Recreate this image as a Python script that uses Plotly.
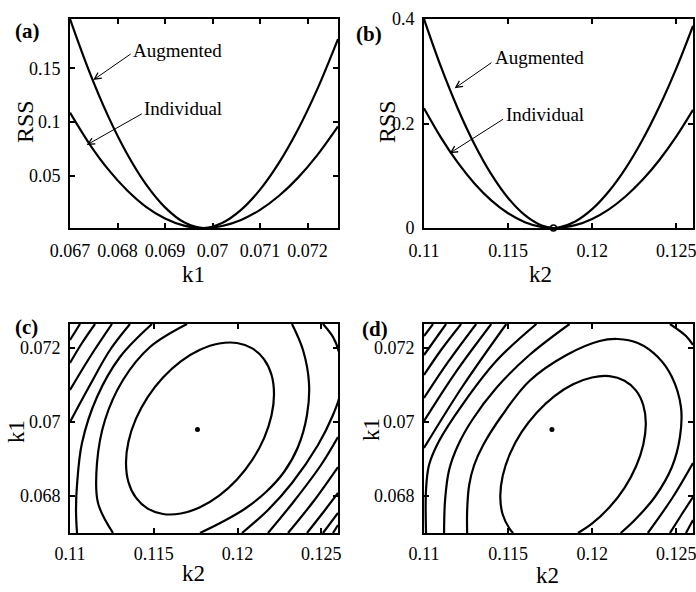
import plotly.graph_objects as go

# ---------------- (a) RSS versus k1 ----------------
A_K1 = [0.0670, 0.0674, 0.0678, 0.0682, 0.0686, 0.0690, 0.0694, 0.0698,
        0.0702, 0.0706, 0.0710, 0.0714, 0.0718, 0.0722, 0.07264]
A_AUG = [0.196, 0.1477, 0.1058, 0.0705, 0.0420, 0.0206, 0.0067, 0.0014,
         0.0061, 0.0183, 0.0371, 0.0622, 0.0933, 0.1302, 0.1773]
A_IND = [0.1088, 0.0803, 0.0562, 0.0365, 0.0211, 0.0102, 0.0036, 0.0014,
         0.0033, 0.0089, 0.0183, 0.0314, 0.0483, 0.0690, 0.0960]

# ---------------- (b) RSS versus k2 ----------------
B_K2 = [0.110, 0.111, 0.112, 0.113, 0.114, 0.115, 0.116, 0.117, 0.1177,
        0.118, 0.119, 0.120, 0.121, 0.122, 0.123, 0.124, 0.125, 0.126]
B_AUG = [0.400, 0.3092, 0.2293, 0.1605, 0.1031, 0.0575, 0.0245, 0.0047, 0.0,
         0.0008, 0.0125, 0.0360, 0.0703, 0.1146, 0.1688, 0.2324, 0.3051, 0.387]
B_IND = [0.229, 0.1734, 0.1255, 0.0853, 0.0529, 0.0282, 0.0112, 0.0019, 0.0,
         0.0003, 0.0055, 0.0174, 0.0357, 0.0607, 0.0922, 0.1302, 0.1748, 0.226]
B_MIN_K2 = [0.1177]
B_MIN_RSS = [0.0]

# optimum (k2, k1)
OPT_K2 = [0.11761]
OPT_K1 = [0.0698]

# ---------------- (c) contour lines (k2, k1) ----------------
C_ELL_K2 = [0.122179, 0.12203, 0.121588, 0.120883, 0.11997, 0.118907, 0.117761,
            0.116615, 0.115552, 0.114639, 0.113934, 0.113492, 0.113343, 0.113492,
            0.113934, 0.114639, 0.115552, 0.116615, 0.117761, 0.118907, 0.11997,
            0.120883, 0.121588, 0.12203, 0.122179]
C_ELL_K1 = [0.070755, 0.070174, 0.069565, 0.068976, 0.068446, 0.068008, 0.067695,
            0.067527, 0.067514, 0.06766, 0.067954, 0.068373, 0.068895, 0.069476,
            0.070084, 0.070674, 0.071204, 0.071642, 0.071955, 0.072123, 0.072136,
            0.07199, 0.071696, 0.071277, 0.070755]
C_R2L_K2 = [0.116985, 0.114776, 0.113164, 0.11209, 0.111612, 0.111672, 0.112567]
C_R2L_K1 = [0.07265, 0.072028, 0.071136, 0.070055, 0.068892, 0.067811, 0.067]
C_R2R_K2 = [0.123253, 0.12391, 0.124268, 0.124149, 0.123612, 0.122776, 0.121701,
            0.120507, 0.119194, 0.117761]
C_R2R_K1 = [0.07265, 0.071947, 0.071055, 0.07019, 0.069325, 0.068649, 0.068108,
            0.067676, 0.067324, 0.067]
C_R3L_K2 = [0.114895, 0.112985, 0.111612, 0.110716, 0.110418, 0.110358, 0.110418]
C_R3L_K1 = [0.07265, 0.071758, 0.070676, 0.069433, 0.068298, 0.067622, 0.067]
C_R3R_K2 = [0.125104, 0.125701, 0.126059, 0.126238, 0.126119, 0.125701, 0.124806,
            0.123253, 0.121821, 0.120268]
C_R3R_K1 = [0.07265, 0.072298, 0.071893, 0.071271, 0.070731, 0.07019, 0.069379,
            0.068352, 0.067622, 0.067]
C_R4L_K2 = [0.113582, 0.112388, 0.111194, 0.11]
C_R4L_K1 = [0.07265, 0.071947, 0.071001, 0.070001]
C_R4R_K2 = [0.126, 0.124985, 0.123433, 0.121821]
C_R4R_K1 = [0.069595, 0.068838, 0.067892, 0.067]
C_R5L_K2 = [0.112507, 0.111194, 0.11]
C_R5L_K1 = [0.07265, 0.071758, 0.070866]
C_R5R_K2 = [0.126, 0.124507, 0.123015]
C_R5R_K1 = [0.068784, 0.067838, 0.067]
C_R6L_K2 = [0.111493, 0.110716, 0.11]
C_R6L_K1 = [0.07265, 0.072136, 0.071596]
C_R6R_K2 = [0.126, 0.125134, 0.124149]
C_R6R_K1 = [0.068081, 0.067568, 0.067]
C_R7L_K2 = [0.110597, 0.11]
C_R7L_K1 = [0.07265, 0.072217]
C_R7R_K2 = [0.126, 0.125104]
C_R7R_K1 = [0.067541, 0.067]
C_R8R_K2 = [0.126, 0.125701]
C_R8R_K1 = [0.067216, 0.067]

# ---------------- (d) contour lines (k2, k1) ----------------
D_R1_K2 = [0.119158, 0.119988, 0.12103, 0.121928, 0.122615, 0.123044, 0.123194,
           0.123044, 0.122615, 0.121928, 0.12103, 0.119988, 0.118865, 0.117743,
           0.116701, 0.115803, 0.115116, 0.114686, 0.114537, 0.114686, 0.115116,
           0.115307]
D_R1_K1 = [0.067, 0.067251, 0.067695, 0.068222, 0.068803, 0.069395, 0.069957,
           0.070455, 0.07085, 0.071117, 0.071239, 0.071204, 0.07102, 0.070695,
           0.070252, 0.069725, 0.069144, 0.068552, 0.067989, 0.067492, 0.067097,
           0.067]
D_R2_K2 = [0.112567, 0.112567, 0.112687, 0.112985, 0.113522, 0.114657, 0.116269,
           0.118477, 0.120448, 0.121522, 0.122716, 0.12391, 0.124746, 0.125283,
           0.125224, 0.124746, 0.123731, 0.122537, 0.121701]
D_R2_K1 = [0.067, 0.067622, 0.068298, 0.068838, 0.069379, 0.07019, 0.071109,
           0.071812, 0.07219, 0.072244, 0.072136, 0.071758, 0.071217, 0.070406,
           0.069595, 0.068784, 0.067973, 0.067351, 0.067]
D_R3L_K2 = [0.111194, 0.111254, 0.111493, 0.11203, 0.112866, 0.114298, 0.116269,
            0.118657]
D_R3L_K1 = [0.067, 0.067892, 0.068703, 0.069379, 0.070055, 0.07092, 0.071812,
            0.07265]
D_R3U_K2 = [0.124627, 0.125582, 0.126]
D_R3U_K1 = [0.07265, 0.072325, 0.072082]
D_R3D_K2 = [0.126, 0.124806, 0.123313]
D_R3D_K1 = [0.068892, 0.067973, 0.067]
D_R4L_K2 = [0.116686, 0.114298, 0.112269, 0.110896, 0.110299, 0.11012, 0.11012]
D_R4L_K1 = [0.07265, 0.07165, 0.07046, 0.069487, 0.068838, 0.068162, 0.067]
D_R4R_K2 = [0.126, 0.125343, 0.124627]
D_R4R_K1 = [0.067973, 0.067514, 0.067]
D_R5L_K2 = [0.114895, 0.112269, 0.11]
D_R5L_K1 = [0.07265, 0.070947, 0.069298]
D_R5R_K2 = [0.126, 0.125582]
D_R5R_K1 = [0.067351, 0.067]
D_R6_K2 = [0.114, 0.111851, 0.11]
D_R6_K1 = [0.07265, 0.071325, 0.070028]
D_R7_K2 = [0.113104, 0.111433, 0.11]
D_R7_K1 = [0.07265, 0.071623, 0.070649]
D_R8_K2 = [0.112209, 0.111015, 0.11]
D_R8_K1 = [0.07265, 0.071947, 0.071271]
D_R9_K2 = [0.111313, 0.11]
D_R9_K1 = [0.07265, 0.071812]
D_R10_K2 = [0.110537, 0.11]
D_R10_K1 = [0.07265, 0.072325]

# ---------------- tick labels ----------------
A_XTICKS = [0.067, 0.068, 0.069, 0.070, 0.071, 0.072]
A_XTEXT = ["0.067", "0.068", "0.069", "0.07", "0.071", "0.072"]
A_YTICKS = [0.05, 0.10, 0.15]
A_YTEXT = ["0.05", "0.1", "0.15"]
K2_TICKS = [0.110, 0.115, 0.120, 0.125]
K2_TEXT = ["0.11", "0.115", "0.12", "0.125"]
B_YTICKS = [0.0, 0.2, 0.4]
B_YTEXT = ["0", "0.2", "0.4"]
K1_TICKS = [0.068, 0.070, 0.072]
K1_TEXT = ["0.068", "0.07", "0.072"]

SERIF = "Liberation Serif, Times New Roman, serif"
W, H = 696, 592

fig = go.Figure()


def line(xs, ys, xa, ya):
    fig.add_trace(go.Scatter(
        x=xs, y=ys, mode="lines", xaxis=xa, yaxis=ya,
        line=dict(color="black", width=2.2, shape="spline", smoothing=1.0),
        showlegend=False, hoverinfo="skip"))


# (a)
line(A_K1, A_AUG, "x", "y")
line(A_K1, A_IND, "x", "y")
# (b)
line(B_K2, B_AUG, "x2", "y2")
line(B_K2, B_IND, "x2", "y2")
fig.add_trace(go.Scatter(x=B_MIN_K2, y=B_MIN_RSS, mode="markers", xaxis="x2", yaxis="y2",
                         marker=dict(symbol="circle-open", size=6, color="black",
                                     line=dict(width=1.6, color="black")),
                         cliponaxis=False, showlegend=False, hoverinfo="skip"))
# (c)
for xs, ys in [(C_ELL_K2, C_ELL_K1), (C_R2L_K2, C_R2L_K1), (C_R2R_K2, C_R2R_K1),
               (C_R3L_K2, C_R3L_K1), (C_R3R_K2, C_R3R_K1), (C_R4L_K2, C_R4L_K1),
               (C_R4R_K2, C_R4R_K1), (C_R5L_K2, C_R5L_K1), (C_R5R_K2, C_R5R_K1),
               (C_R6L_K2, C_R6L_K1), (C_R6R_K2, C_R6R_K1), (C_R7L_K2, C_R7L_K1),
               (C_R7R_K2, C_R7R_K1), (C_R8R_K2, C_R8R_K1)]:
    line(xs, ys, "x3", "y3")
# (d)
for xs, ys in [(D_R1_K2, D_R1_K1), (D_R2_K2, D_R2_K1), (D_R3L_K2, D_R3L_K1),
               (D_R3U_K2, D_R3U_K1), (D_R3D_K2, D_R3D_K1), (D_R4L_K2, D_R4L_K1),
               (D_R4R_K2, D_R4R_K1), (D_R5L_K2, D_R5L_K1), (D_R5R_K2, D_R5R_K1),
               (D_R6_K2, D_R6_K1), (D_R7_K2, D_R7_K1), (D_R8_K2, D_R8_K1),
               (D_R9_K2, D_R9_K1), (D_R10_K2, D_R10_K1)]:
    line(xs, ys, "x4", "y4")

for xa, ya in [("x3", "y3"), ("x4", "y4")]:
    fig.add_trace(go.Scatter(x=OPT_K2, y=OPT_K1, mode="markers", xaxis=xa, yaxis=ya,
                             marker=dict(symbol="circle", size=5, color="black"),
                             showlegend=False, hoverinfo="skip"))


def axis(domain, rng, tv, tt, anchor, standoff):
    return dict(domain=domain, range=rng, tickvals=tv, ticktext=tt, anchor=anchor,
                showline=True, linecolor="black", linewidth=2, mirror="ticks",
                ticks="inside", ticklen=5, tickwidth=1.5, tickcolor="black",
                showgrid=False, zeroline=False, fixedrange=True, automargin=False,
                ticklabelstandoff=standoff, ticklabeloverflow="allow",
                tickfont=dict(family=SERIF, size=18, color="black"))


XD1 = [70 / W, 338 / W]
XD2 = [424 / W, 693 / W]
YD1 = [1 - 228 / H, 1 - 19 / H]
YD2 = [1 - 533 / H, 1 - 324 / H]

fig.update_layout(
    template="none",
    width=W, height=H,
    margin=dict(l=0, r=0, t=0, b=0, pad=0),
    paper_bgcolor="white", plot_bgcolor="white",
    xaxis=axis(XD1, [0.067, 0.07264], A_XTICKS, A_XTEXT, "y", 5),
    yaxis=axis(YD1, [0.0014, 0.196], A_YTICKS, A_YTEXT, "x", 4),
    xaxis2=axis(XD2, [0.11, 0.126], K2_TICKS, K2_TEXT, "y2", 5),
    yaxis2=axis(YD1, [0.0, 0.4], B_YTICKS, B_YTEXT, "x2", 4),
    xaxis3=axis(XD1, [0.11, 0.126], K2_TICKS, K2_TEXT, "y3", 3),
    yaxis3=axis(YD2, [0.067, 0.07265], K1_TICKS, K1_TEXT, "x3", 4),
    xaxis4=axis(XD2, [0.11, 0.126], K2_TICKS, K2_TEXT, "y4", 3),
    yaxis4=axis(YD2, [0.067, 0.07265], K1_TICKS, K1_TEXT, "x4", 4),
)

ann = []


def ptext(txt, px, py, size=23, angle=0, bold=False):
    ann.append(dict(text=("<b>%s</b>" % txt) if bold else txt,
                    x=px / W, y=1 - py / H, xref="paper", yref="paper",
                    xanchor="center", yanchor="middle", showarrow=False,
                    textangle=angle,
                    font=dict(family=SERIF, size=size, color="black")))


# panel labels
ptext("(a)", 27, 31, 21, bold=True)
ptext("(b)", 369, 34, 21, bold=True)
ptext("(c)", 26, 327, 21, bold=True)
ptext("(d)", 375, 329, 21, bold=True)
# axis titles
ptext("k1", 193, 275)
ptext("RSS", 25, 122, size=24, angle=-90)
ptext("k2", 540, 275)
ptext("RSS", 387, 122, size=24, angle=-90)
ptext("k2", 193, 573)
ptext("k1", 16, 432, angle=-90)
ptext("k2", 547, 575)
ptext("k1", 371, 430, angle=-90)


def arrow_label(txt, xa, ya, tx, ty, tipx, tipy, tailx, taily):
    ann.append(dict(text=txt, x=tx, y=ty, xref=xa, yref=ya, xanchor="left",
                    yanchor="middle", showarrow=False,
                    font=dict(family=SERIF, size=19, color="black")))
    ann.append(dict(text="", x=tipx, y=tipy, ax=tailx, ay=taily, xref=xa, yref=ya,
                    axref=xa, ayref=ya, showarrow=True, arrowhead=5, arrowsize=1.3,
                    arrowwidth=1, arrowcolor="black", standoff=0, startstandoff=0))


arrow_label("Augmented", "x", "y", 0.06828, 0.1671, 0.06749, 0.1392, 0.068305, 0.1643)
arrow_label("Individual", "x", "y", 0.06852, 0.1131, 0.067351, 0.0787, 0.068543, 0.1085)
arrow_label("Augmented", "x2", "y2", 0.11408, 0.3254, 0.111823, 0.2674, 0.114097, 0.3183)
arrow_label("Individual", "x2", "y2", 0.11478, 0.2163, 0.111526, 0.1430, 0.114792, 0.2100)

fig.update_layout(annotations=ann)
fig.write_html("out.html", config={"displayModeBar": False})
